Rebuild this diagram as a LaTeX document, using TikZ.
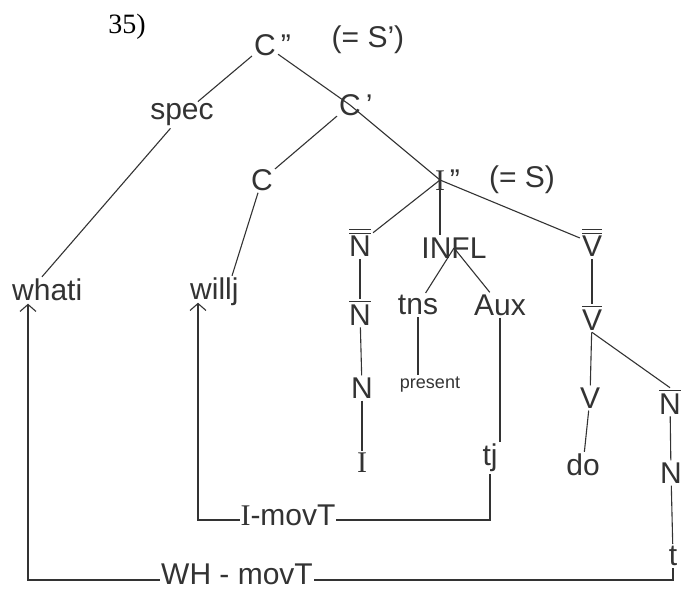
\documentclass[tikz,border=0pt]{standalone}
\usepackage{fontspec}
\setmainfont{Liberation Sans}
\newfontfamily\printfont{Liberation Serif}
\usetikzlibrary{arrows.meta}
\newcommand{\onebar}[1]{\vbox{\hrule height 1.1pt\kern 2.5pt\hbox{#1}}}
\newcommand{\twobar}[1]{\vbox{\hrule height 1.1pt\kern 2.5pt\hrule height 1.1pt\kern 2.5pt\hbox{#1}}}
\definecolor{ink}{gray}{0.2}
\begin{document}
\begin{tikzpicture}[x=1pt,y=-1pt,
  lab/.style={font=\fontsize{30}{32}\selectfont, text=ink, inner sep=2pt},
  sm/.style={font=\fontsize{18}{20}\selectfont, text=ink, inner sep=2pt},
  print/.style={font=\printfont\fontsize{28}{30}\selectfont, text=black, inner sep=0pt},
  edge/.style={draw=ink, line width=1.1pt},
  mv/.style={draw=ink, line width=1.1pt, -{Straight Barb[length=7pt,width=16pt,line width=1.1pt]}},
  mvlab/.style={lab, fill=white, inner sep=1pt, anchor=base}]
\useasboundingbox (0,0) rectangle (683,590);
\fill[white] (0,0) rectangle (683,590);
% nodes
\node[print] (n35) at (127,27) {35)};
\node[lab] (Cpp) at (265,45) {C\rlap{\,\char"22}};
\node[lab] (eqS1) at (368,40) {(= S\char"27)};
\node[lab] (spec) at (182,115) {spec};
\node[lab] (Cp) at (350,105) {C\rlap{\,\char"27}};
\node[lab] (C) at (262,180) {C};
\node[lab] (Ipp) at (440,180) {{\printfont I}\rlap{\,\char"22}};
\node[lab] (eqS) at (522,180) {(= S)};
\node[lab] (Nbb) at (360,243) {\twobar{N}};
\node[lab] (INFL) at (454,248) {INFL};
\node[lab] (Vbb) at (592,243) {\twobar{V}};
\node[lab,anchor=west] (what) at (10,290) {whati};
\node[lab,anchor=west] (will) at (188,292) {willj};
\node[lab] (Nb) at (360,313) {\onebar{N}};
\node[lab] (tns) at (418,305) {tns};
\node[lab] (Aux) at (500,305) {Aux};
\node[lab] (Vb) at (592,318) {\onebar{V}};
\node[lab] (N) at (362,388) {N};
\node[sm] (present) at (430,385) {present};
\node[lab] (V) at (590,398) {V};
\node[lab] (Nbr) at (670,402) {\onebar{N}};
\node[lab] (I) at (362,463) {\printfont I};
\node[lab] (tj) at (490,458) {tj};
\node[lab] (do) at (583,465) {do};
\node[lab] (N2) at (671,473) {N};
\node[lab] (t) at (673,556) {t};
% tree edges
\draw[edge] (Cpp) -- (spec);
\draw[edge] (spec) -- ([xshift=32pt]what.north west);
\draw[edge] (Cpp) -- (Cp.center) -- (Ipp.center);
\draw[edge] (Cp) -- (C);
\draw[edge] (C) -- ([xshift=44pt]will.north west);
\draw[edge] (Ipp.center) -- (Nbb);
\draw[edge] (Ipp.center) -- (Ipp.center |- INFL.north);
\draw[edge] (Ipp.center) -- (Vbb);
\draw[edge] (Nbb) -- (Nb);
\draw[edge] (Nb) -- (N);
\draw[edge] (N) -- (I);
\draw[edge] (INFL.center) -- (tns);
\draw[edge] (INFL.center) -- (Aux);
\draw[edge] (tns) -- (tns |- present.north);
\draw[edge] (Aux.south) -- (Aux.south |- tj.north);
\draw[edge] (Vbb) -- (Vb);
\draw[edge] (Vb) -- (V);
\draw[edge] (V) -- (do);
\draw[edge] (Vb.south) -- (Nbr.north);
\draw[edge] (Nbr) -- (N2);
\draw[edge] (N2) -- (t);
% movement
\draw[mv] (tj.south) -- (tj.south |- 0,520) -| ([xshift=10pt,yshift=-3pt]will.base west);
\node[mvlab] (imov) at (288,525) {{\printfont I}-movT};
\draw[mv] (t.south) -- (t.south |- 0,580) -| ([xshift=18pt,yshift=-3pt]what.base west);
\node[mvlab] (whmov) at (237,584) {WH - movT};
\end{tikzpicture}
\end{document}
